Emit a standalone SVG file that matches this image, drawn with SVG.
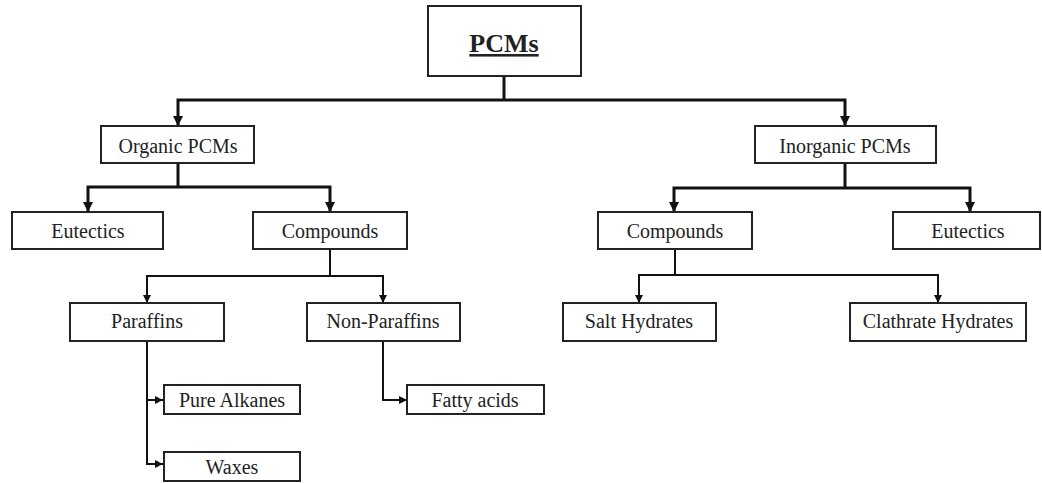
<svg xmlns="http://www.w3.org/2000/svg" width="1042" height="483" viewBox="0 0 1042 483">
<defs>
<style>
.box{fill:#fff;stroke:#222;stroke-width:2}
.t{font-size:20px;fill:#222;text-anchor:middle}
.c{fill:none;stroke:#111;stroke-width:3}
.c2{fill:none;stroke:#111;stroke-width:2}
</style>
<marker id="ah" viewBox="0 0 10 10" refX="10" refY="5" markerWidth="10" markerHeight="10" markerUnits="userSpaceOnUse" orient="auto"><path d="M0,0 L10,5 L0,10 z" fill="#111"/></marker>
<marker id="as" viewBox="0 0 10 10" refX="10" refY="5" markerWidth="8" markerHeight="8" markerUnits="userSpaceOnUse" orient="auto"><path d="M0,0 L10,5 L0,10 z" fill="#111"/></marker>
</defs>
<rect width="1042" height="483" fill="#fff"/>
<g id="connectors">
<path class="c" d="M504,76 V100"/>
<path class="c" d="M504,100 H178 V126" marker-end="url(#ah)"/>
<path class="c" d="M504,100 H845 V126" marker-end="url(#ah)"/>
<path class="c" d="M178,163 V187"/>
<path class="c" d="M178,187 H88 V212" marker-end="url(#ah)"/>
<path class="c" d="M178,187 H330 V212" marker-end="url(#ah)"/>
<path class="c" d="M845,163 V188"/>
<path class="c" d="M845,188 H674 V212" marker-end="url(#ah)"/>
<path class="c" d="M845,188 H970 V212" marker-end="url(#ah)"/>
<path class="c2" d="M330,249 V276"/>
<path class="c2" d="M330,276 H147 V303" marker-end="url(#as)"/>
<path class="c2" d="M330,276 H383 V303" marker-end="url(#as)"/>
<path class="c2" d="M675,249 V275"/>
<path class="c2" d="M675,275 H639 V303" marker-end="url(#as)"/>
<path class="c2" d="M675,275 H938 V303" marker-end="url(#as)"/>
<path class="c2" d="M147,341 V464 H163" marker-end="url(#as)"/>
<path class="c2" d="M147,400 H163" marker-end="url(#as)"/>
<path class="c2" d="M383,341 V400 H407" marker-end="url(#as)"/>
</g>
<g font-family="Liberation Serif, serif">
<g id="pcms"><rect class="box" x="428" y="6" width="153" height="70"/><text x="504" y="52" font-size="26" font-weight="bold" text-anchor="middle" text-decoration="underline" fill="#222">PCMs</text></g>
<g id="organic"><rect class="box" x="101" y="126" width="153" height="37"/><text class="t" x="178" y="153">Organic PCMs</text></g>
<g id="inorganic"><rect class="box" x="755" y="126" width="181" height="37"/><text class="t" x="845" y="153">Inorganic PCMs</text></g>
<g id="eutectics-org"><rect class="box" x="12" y="212" width="151" height="37"/><text class="t" x="88" y="238">Eutectics</text></g>
<g id="compounds-org"><rect class="box" x="253" y="212" width="154" height="37"/><text class="t" x="330" y="238">Compounds</text></g>
<g id="compounds-inorg"><rect class="box" x="598" y="212" width="154" height="37"/><text class="t" x="675" y="238">Compounds</text></g>
<g id="eutectics-inorg"><rect class="box" x="893" y="212" width="147" height="37"/><text class="t" x="968" y="238">Eutectics</text></g>
<g id="paraffins"><rect class="box" x="70" y="303" width="154" height="38"/><text class="t" x="147" y="328">Paraffins</text></g>
<g id="non-paraffins"><rect class="box" x="307" y="303" width="153" height="38"/><text class="t" x="383" y="328">Non-Paraffins</text></g>
<g id="salt-hydrates"><rect class="box" x="563" y="303" width="153" height="38"/><text class="t" x="639" y="328">Salt Hydrates</text></g>
<g id="clathrate-hydrates"><rect class="box" x="850" y="303" width="176" height="38"/><text class="t" x="938" y="328">Clathrate Hydrates</text></g>
<g id="pure-alkanes"><rect class="box" x="164" y="385" width="136" height="29"/><text class="t" x="232" y="407">Pure Alkanes</text></g>
<g id="waxes"><rect class="box" x="164" y="452" width="136" height="29"/><text class="t" x="232" y="474">Waxes</text></g>
<g id="fatty-acids"><rect class="box" x="407" y="385" width="137" height="29"/><text class="t" x="475" y="407">Fatty acids</text></g>
</g>
</svg>
